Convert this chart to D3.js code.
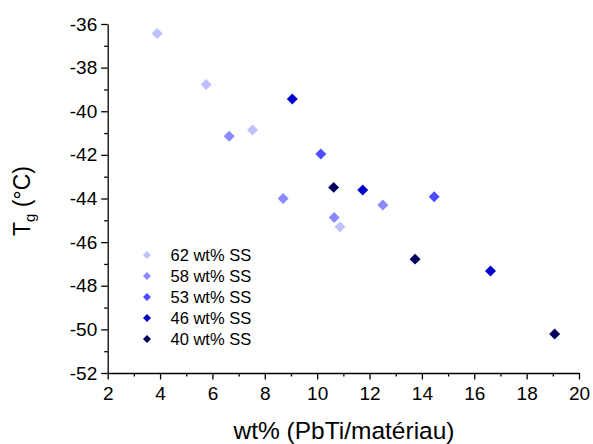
<!DOCTYPE html>
<html><head><meta charset="utf-8">
<script src="https://cdn.jsdelivr.net/npm/d3@7"></script>
<style>body{margin:0;background:#fff}svg{display:block}text{font-family:"Liberation Sans",Arial,sans-serif;fill:#000}</style>
</head><body>
<svg id="c" width="593" height="444"></svg>
<script>
const seriesNames = ["62 wt% SS","58 wt% SS","53 wt% SS","46 wt% SS","40 wt% SS"];
const seriesColors = ["#c0c0ff","#8a8aff","#4d4dff","#0000cc","#00005e"];
const s62 = [[3.89,-36.44],[5.76,-38.77],[7.53,-40.86],[10.87,-45.30]];
const s58 = [[6.64,-41.15],[8.70,-44.00],[12.51,-44.30],[10.65,-44.87]];
const s53 = [[10.14,-41.96],[14.47,-43.92]];
const s46 = [[9.05,-39.44],[11.74,-43.61],[16.62,-47.32]];
const s40 = [[10.63,-43.49],[13.74,-46.78],[19.07,-50.21]];
const seriesData = [s62,s58,s53,s46,s40];
const xTicks = [2,4,6,8,10,12,14,16,18,20];
const xMinor = [3,5,7,9,11,13,15,17,19];
const yTicks = [-52,-50,-48,-46,-44,-42,-40,-38,-36];
const yMinor = [-51,-49,-47,-45,-43,-41,-39,-37];

const svg = d3.select("#c");
const x = d3.scaleLinear().domain([2,20]).range([107.7,579]);
const y = d3.scaleLinear().domain([-52,-36]).range([373,24]);

// minor ticks
svg.append("g").attr("transform","translate(0,373)")
  .call(d3.axisBottom(x).tickValues(xMinor).tickSize(3.5).tickFormat(""))
  .call(g=>g.select(".domain").remove())
  .call(g=>g.selectAll("line").attr("stroke-width",1.3));
svg.append("g").attr("transform","translate(107.7,0)")
  .call(d3.axisLeft(y).tickValues(yMinor).tickSize(3.5).tickFormat(""))
  .call(g=>g.select(".domain").remove())
  .call(g=>g.selectAll("line").attr("stroke-width",1.3));

const xa = svg.append("g").attr("transform","translate(0,373)")
  .call(d3.axisBottom(x).tickValues(xTicks).tickSize(6.5).tickSizeOuter(0).tickPadding(7).tickFormat(d3.format("d")));
xa.selectAll("text").style("font-size","19px").attr("font-family",null);
xa.select(".domain").attr("stroke-width",1.3);
xa.selectAll("line").attr("stroke-width",1.3);

const ya = svg.append("g").attr("transform","translate(107.7,0)")
  .call(d3.axisLeft(y).tickValues(yTicks).tickSize(6.5).tickSizeOuter(0).tickPadding(4).tickFormat(d=>String(d)));
ya.selectAll("text").style("font-size","19px").attr("font-family",null);
ya.select(".domain").attr("stroke-width",1.3);
ya.selectAll("line").attr("stroke-width",1.3);

// points
const diamond = d3.symbol().type(d3.symbolSquare).size(60);
seriesData.forEach((data,i)=>{
  svg.append("g").selectAll("path").data(data).join("path")
    .attr("d",diamond)
    .attr("transform",d=>`translate(${x(d[0])},${y(d[1])}) rotate(45)`)
    .attr("fill",seriesColors[i]);
});

// legend
const leg = svg.append("g");
const legSym = d3.symbol().type(d3.symbolSquare).size(32);
seriesNames.forEach((n,i)=>{
  const yy = 255 + i*21;
  leg.append("path").attr("d",legSym).attr("transform",`translate(147,${yy}) rotate(45)`).attr("fill",seriesColors[i]);
  leg.append("text").attr("x",170.5).attr("y",yy).attr("dy","0.36em").style("font-size","16.5px").text(n);
});

// axis titles
svg.append("text").attr("x",344).attr("y",439).attr("text-anchor","middle").style("font-size","24.5px").text("wt% (PbTi/matériau)");
const yt = svg.append("text").attr("transform","translate(30,201) rotate(-90)").attr("text-anchor","middle").style("font-size","23px");
yt.append("tspan").text("T");
yt.append("tspan").attr("dy","5").style("font-size","15px").text("g");
yt.append("tspan").attr("dy","-5").text(" (°C)");
</script>
</body></html>
